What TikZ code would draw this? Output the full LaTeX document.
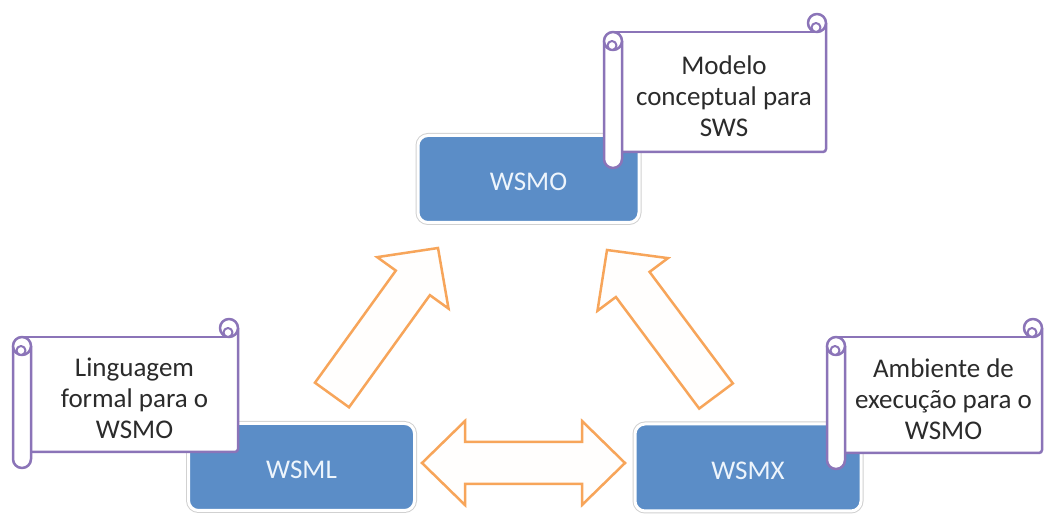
\documentclass[tikz,border=0pt]{standalone}
\usepackage{fontspec}
\setmainfont{Carlito}
\usetikzlibrary{calc}
\definecolor{boxblue}{HTML}{5B8DC7}
\definecolor{boxtext}{HTML}{EEF5FC}
\definecolor{scrollpurple}{HTML}{8B74B8}
\definecolor{arroworange}{HTML}{F7A55A}
\definecolor{arrowfill}{HTML}{FFFEFD}
\definecolor{scrolltextc}{HTML}{2B2B2B}

\tikzset{
  bluebox/.style={rounded corners=10pt, fill=boxblue, draw=white, line width=3pt,
    preaction={draw=black!18, line width=5pt},
    minimum width=#1, minimum height=87pt, inner sep=0pt, text=boxtext,
    font=\fontsize{27}{32}\selectfont, text height=24pt, text depth=0pt},
  scrollline/.style={draw=scrollpurple, line width=2.5pt, fill=white, line join=round},
  scrolltext/.style={align=center, text=scrolltextc, font=\fontsize{27}{31}\selectfont, inner sep=0pt},
  blockarr/.style={draw=arroworange, fill=arrowfill, line width=2.5pt, line join=miter}
}

\newcommand\drawscroll[6]{%
  \def\scrL{#2}\def\scrT{#3}\def\scrR{#4}\def\scrB{#5}%
  \fill[white] (\scrL+9,\scrT) rectangle (\scrR,\scrB);
  \draw[scrollline, fill=none, rounded corners=3pt] (\scrR,\scrT-9) -- (\scrR,\scrB) -- (\scrL+18,\scrB);
  \draw[scrollline, fill=none] (\scrL+9,\scrT) -- (\scrR-9,\scrT);
  \filldraw[scrollline] (\scrR-9,\scrT-9) circle[radius=9];
  \draw[scrollline, line width=2pt] (\scrR-10,\scrT-4.5) circle[radius=4.5];
  \filldraw[scrollline, rounded corners=8.9pt] (\scrL,\scrT+9) -- (\scrL,\scrB+16) -- (\scrL+18,\scrB+16) -- (\scrL+18,\scrT+9);
  \filldraw[scrollline] (\scrL+9,\scrT+9) circle[radius=9];
  \draw[scrollline, line width=2pt] (\scrL+8,\scrT+13.5) circle[radius=4.5];
  \node[scrolltext] (#1) at ({(\scrL+18+\scrR)/2},{(\scrT+\scrB)/2+4}) {#6};
}

\newcommand\singleblock[2]{%
  \coordinate (hb) at ($(#2)!43pt!(#1)$);
  \draw[blockarr] ($(#1)!21pt!90:(#2)$) -- ($(hb)!21pt!90:(#2)$) -- ($(hb)!44pt!90:(#2)$) -- (#2)
    -- ($(hb)!44pt!-90:(#2)$) -- ($(hb)!21pt!-90:(#2)$) -- ($(#1)!21pt!-90:(#2)$) -- cycle;
}
\newcommand\doubleblock[2]{%
  \coordinate (ha) at ($(#1)!43pt!(#2)$);
  \coordinate (hb) at ($(#2)!43pt!(#1)$);
  \draw[blockarr] (#1) -- ($(ha)!42pt!90:(#2)$) -- ($(ha)!21pt!90:(#2)$) -- ($(hb)!21pt!-90:(#1)$)
    -- ($(hb)!42pt!-90:(#1)$) -- (#2) -- ($(hb)!42pt!90:(#1)$) -- ($(hb)!21pt!90:(#1)$)
    -- ($(ha)!21pt!-90:(#2)$) -- ($(ha)!42pt!-90:(#2)$) -- cycle;
}

\begin{document}
\begin{tikzpicture}[x=1pt,y=-1pt]
\useasboundingbox (0,0) rectangle (1045,518);
\fill[white] (0,0) rectangle (1045,518);

% block arrows
\coordinate (la-t) at (332,395); \coordinate (la-h) at (438,248);
\coordinate (ra-t) at (716,396); \coordinate (ra-h) at (607,250);
\coordinate (da-l) at (422,463); \coordinate (da-r) at (625,463);
\singleblock{la-t}{la-h}
\singleblock{ra-t}{ra-h}
\doubleblock{da-l}{da-r}

% blue boxes
\node[bluebox=221pt] (wsmo) at (528.5,179) {WSMO};
\node[bluebox=226pt] (wsml) at (301.5,467) {WSML};
\node[bluebox=226pt] (wsmx) at (748,467.5) {WSMX};

% scrolls
\drawscroll{sc-wsmo}{604}{32}{826}{152}{Modelo\\conceptual para\\SWS}
\drawscroll{sc-wsml}{13}{337}{238}{452}{Linguagem\\formal para o\\WSMO}
\drawscroll{sc-wsmx}{827}{337}{1042}{453}{Ambiente de\\execução para o\\WSMO}
\end{tikzpicture}
\end{document}
